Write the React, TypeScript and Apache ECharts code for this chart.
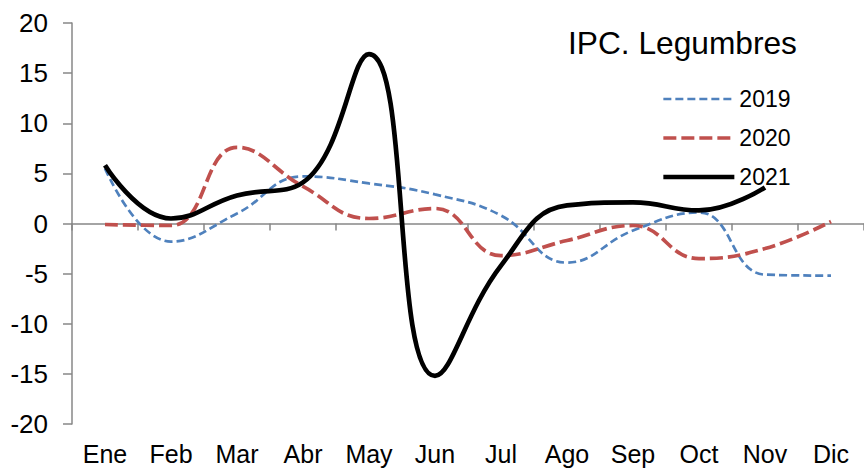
import React, { useEffect, useRef } from "react";
import * as echarts from "echarts";

const categories = ["Ene", "Feb", "Mar", "Abr", "May", "Jun", "Jul", "Ago", "Sep", "Oct", "Nov", "Dic"];
const seriesNames = ["2019", "2020", "2021"];
const values2019 = [5.5, -1.8, 1.0, 4.7, 4.0, 2.9, 0.8, -3.9, -0.7, 1.1, -5.1, -5.2];
const values2020 = [-0.1, -0.2, 7.6, 3.7, 0.5, 1.5, -3.2, -1.7, -0.2, -3.5, -2.5, 0.2];
const values2021 = [5.8, 0.5, 2.8, 4.1, 16.9, -15.2, -4.2, 1.8, 2.1, 1.3, 3.6, null];
const titleText = "IPC. Legumbres";

const FONT = '"Liberation Sans", Arial, sans-serif';
const AXIS_GRAY = "#878787";
const COLORS = ["#4F81BD", "#C0504D", "#000000"];
const WIDTHS = [2.7, 3.7, 4.7];
const DASHES: any[] = [[8, 4], [13, 5], "solid"];
const VALUES = [values2019, values2020, values2021];

export default function App() {
  const ref = useRef<HTMLDivElement>(null);
  useEffect(() => {
    if (!ref.current) return;
    const chart = echarts.init(ref.current, undefined, { renderer: "svg" });
    const smooth = 0.45;
    chart.setOption({
      animation: false,
      backgroundColor: "#ffffff",
      textStyle: { fontFamily: FONT },
      title: {
        text: titleText,
        left: 568,
        top: 27,
        padding: 0,
        textStyle: { fontFamily: FONT, fontSize: 31.7, fontWeight: "normal", color: "#000" },
      },
      legend: {
        orient: "vertical",
        left: 661,
        top: 87,
        padding: 0,
        itemWidth: 71,
        itemHeight: 24,
        itemGap: 15,
        data: seriesNames.map((name, i) => ({
          name,
          itemStyle: { opacity: 0 },
          lineStyle: { width: WIDTHS[i], color: COLORS[i], type: DASHES[i] },
        })),
        textStyle: { fontFamily: FONT, fontSize: 23, color: "#000", lineHeight: 24 },
      },
      grid: { left: 72, top: 23, bottom: 45, right: -6, containLabel: false },
      xAxis: [
        {
          type: "category",
          data: categories,
          position: "bottom",
          axisLine: { show: false, onZero: false },
          axisTick: { show: false },
          axisLabel: { fontFamily: FONT, fontSize: 25, color: "#000", margin: 17, interval: 0 },
        },
        {
          type: "category",
          data: categories,
          position: "bottom",
          axisLine: { show: true, onZero: true, lineStyle: { color: AXIS_GRAY, width: 1.5 } },
          axisTick: { show: true, length: 7, lineStyle: { color: AXIS_GRAY, width: 1.5 } },
          axisLabel: { show: false },
        },
      ],
      yAxis: {
        type: "value",
        min: -20,
        max: 20,
        interval: 5,
        axisLine: { show: true, lineStyle: { color: AXIS_GRAY, width: 1.5 } },
        axisTick: { show: true, length: 9, lineStyle: { color: AXIS_GRAY, width: 1.5 } },
        splitLine: { show: false },
        axisLabel: { fontFamily: FONT, fontSize: 26, color: "#000", margin: 24 },
      },
      series: seriesNames.map((name, i) => ({
        name,
        type: "line",
        data: VALUES[i],
        smooth,
        symbol: "none",
        itemStyle: { color: COLORS[i] },
        lineStyle: { color: COLORS[i], width: WIDTHS[i], type: DASHES[i] },
        z: 2 + i,
      })),
    });
    return () => chart.dispose();
  }, []);
  return (
    <div
      ref={ref}
      style={{ position: "fixed", left: 0, top: 0, width: 864, height: 469, background: "#fff" }}
    />
  );
}
